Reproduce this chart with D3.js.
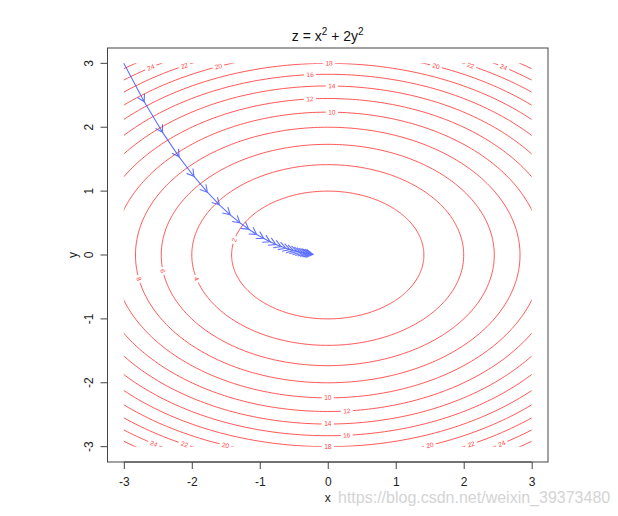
<!DOCTYPE html>
<html><head><meta charset="utf-8">
<script src="https://cdn.jsdelivr.net/npm/d3@7"></script>
<style>body{margin:0;background:#fff}svg{display:block;font-family:"Liberation Sans",Arial,sans-serif}</style>
</head><body><svg id="c" width="618" height="516"></svg>
<script>
const xTicks = [-3,-2,-1,0,1,2,3];
const yTicks = [-3,-2,-1,0,1,2,3];
const levels = [2,4,6,8,10,12,14,16,18,20,22,24,26];
// contour label anchors: [level, x, y]
const labelLevel = [24,22,20,18,16,14,12,10, 20,22,24, 10,12,14,16,18, 20,22,24, 20,22,24, 8,6,4,2];
const labelX = [-2.59,-2.10,-1.62,0.02,-0.26,0.06,-0.26,0.06, 1.60,2.09,2.57, 0.0,0.28,0.0,0.28,0.0, -1.50,-2.10,-2.53, 1.50,2.10,2.53, -2.78,-2.43,-1.94,-1.37];
const labelY = [2.92,2.95,2.97,2.98,2.83,2.62,2.42,2.23, 2.97,2.95,2.92, -2.23,-2.42,-2.62,-2.83,-2.98, -2.97,-2.95,-2.92, -2.97,-2.95,-2.92, -0.375,-0.25,-0.375,0.234];
// descent path points
const pathX = [-3,-2.7,-2.43,-2.187,-1.968,-1.771,-1.594,-1.435,-1.291,-1.162,-1.046,-0.941,-0.847,-0.763,-0.686,-0.618,-0.556,-0.500,-0.450,-0.405,-0.365,-0.328,-0.295,-0.266,-0.239,-0.215];
const pathY = [3,2.4,1.92,1.536,1.229,0.983,0.786,0.629,0.503,0.403,0.322,0.258,0.206,0.165,0.132,0.106,0.084,0.068,0.054,0.043,0.035,0.028,0.022,0.018,0.014,0.011];

const svg = d3.select("#c");
const x = d3.scaleLinear().domain([-3.24,3.24]).range([107.5,548]);
const y = d3.scaleLinear().domain([-3.24,3.24]).range([462,48]);

const defs = svg.append("defs");
defs.append("clipPath").attr("id","grid").append("rect")
  .attr("x",x(-3)).attr("y",y(3)).attr("width",x(3)-x(-3)).attr("height",y(-3)-y(3));

const labels = labelLevel.map((lv,i)=>{
  const s = Math.sqrt(lv/(labelX[i]**2+2*labelY[i]**2));
  const lx = labelX[i]*s, ly = labelY[i]*s;
  const dxp = -4*ly*(x(1)-x(0)), dyp = -(2*lx)*(y(0)-y(1));
  let a = Math.atan2(dyp,dxp)*180/Math.PI;
  if (a>90) a-=180; if (a<=-90) a+=180;
  return {lv, px:x(lx), py:y(ly), a, w:String(lv).length*4+4};
});
const mask = defs.append("mask").attr("id","lbl").attr("maskUnits","userSpaceOnUse")
  .attr("x",0).attr("y",0).attr("width",618).attr("height",516);
mask.append("rect").attr("width",618).attr("height",516).attr("fill","#fff");
mask.selectAll("rect.g").data(labels).join("rect").attr("class","g")
  .attr("x",d=>-d.w/2).attr("y",-3).attr("width",d=>d.w).attr("height",6).attr("fill","#000")
  .attr("transform",d=>`translate(${d.px},${d.py}) rotate(${d.a})`);

const ts = d3.range(0,361).map(d=>d*Math.PI/180);
const line = d3.line().x(d=>x(d[0])).y(d=>y(d[1]));
const cg = svg.append("g").attr("clip-path","url(#grid)").append("g").attr("mask","url(#lbl)");
cg.selectAll("path").data(levels).join("path")
  .attr("d",lv=>line(ts.map(t=>[Math.sqrt(lv)*Math.cos(t),Math.sqrt(lv/2)*Math.sin(t)])))
  .attr("fill","none").attr("stroke","#ff3b3b").attr("stroke-width",1).attr("stroke-opacity",0.85);

svg.append("g").selectAll("text").data(labels).join("text")
  .attr("transform",d=>`translate(${d.px},${d.py}) rotate(${d.a})`)
  .attr("text-anchor","middle").attr("dy","0.35em")
  .attr("font-size",6.5).attr("fill","#ff4040").text(d=>d.lv);

const ag = svg.append("g").attr("stroke","#3a50ff").attr("stroke-opacity",0.8).attr("stroke-width",1.1).attr("fill","none");
for (let i=0;i<pathX.length-1;i++){
  const x0=x(pathX[i]), y0=y(pathY[i]), x1=x(pathX[i+1]), y1=y(pathY[i+1]);
  const ang = Math.atan2(y1-y0,x1-x0), L=8, h=Math.PI/6;
  ag.append("path").attr("d",
    `M${x0},${y0}L${x1},${y1}`+
    `M${x1-L*Math.cos(ang-h)},${y1-L*Math.sin(ang-h)}L${x1},${y1}L${x1-L*Math.cos(ang+h)},${y1-L*Math.sin(ang+h)}`);
}

svg.append("rect").attr("x",x.range()[0]).attr("y",y.range()[1])
  .attr("width",x.range()[1]-x.range()[0]).attr("height",y.range()[0]-y.range()[1])
  .attr("fill","none").attr("stroke","#444").attr("stroke-width",1);

const fmt = d=>String(d);
const xa = svg.append("g").attr("transform","translate(0,462)")
  .call(d3.axisBottom(x).tickValues(xTicks).tickSize(7).tickPadding(8).tickFormat(fmt));
const ya = svg.append("g").attr("transform","translate(107.5,0)")
  .call(d3.axisLeft(y).tickValues(yTicks).tickSize(7).tickPadding(6).tickFormat(fmt));
[xa,ya].forEach(g=>{
  g.select(".domain").attr("stroke","#444").attr("d", g===xa ? `M${x(-3)},0H${x(3)}` : `M0,${y(3)}V${y(-3)}`);
  g.selectAll(".tick line").attr("stroke","#444");
  g.selectAll("text").attr("font-size",12).attr("fill","#222").attr("font-family","Liberation Sans, Arial, sans-serif");
});
ya.selectAll(".tick text").attr("text-anchor","middle").attr("dy","0.35em")
  .attr("x",d=>-y(d)).attr("y",-19).attr("transform","rotate(-90)");
ya.selectAll(".tick").attr("transform","translate(0,0)");
ya.selectAll(".tick line").attr("y1",d=>y(d)).attr("y2",d=>y(d)).attr("x2",-7);

svg.append("text").attr("x",x(0)).attr("y",502).attr("text-anchor","middle").attr("font-size",12).attr("fill","#222").text("x");
svg.append("text").attr("transform",`translate(77,${y(0)}) rotate(-90)`).attr("text-anchor","middle").attr("font-size",12).attr("fill","#222").text("y");

const tt = svg.append("text").attr("x",x(0)).attr("y",41).attr("text-anchor","middle").attr("font-size",14).attr("fill","#111");
tt.append("tspan").text("z = x");
tt.append("tspan").attr("dy",-6).attr("font-size",10).text("2");
tt.append("tspan").attr("dy",6).text(" + 2y");
tt.append("tspan").attr("dy",-6).attr("font-size",10).text("2");

svg.append("text").attr("x",338).attr("y",503).attr("font-size",16).attr("fill","#d4d4d4").text("https://blog.csdn.net/weixin_39373480");
</script></body></html>
